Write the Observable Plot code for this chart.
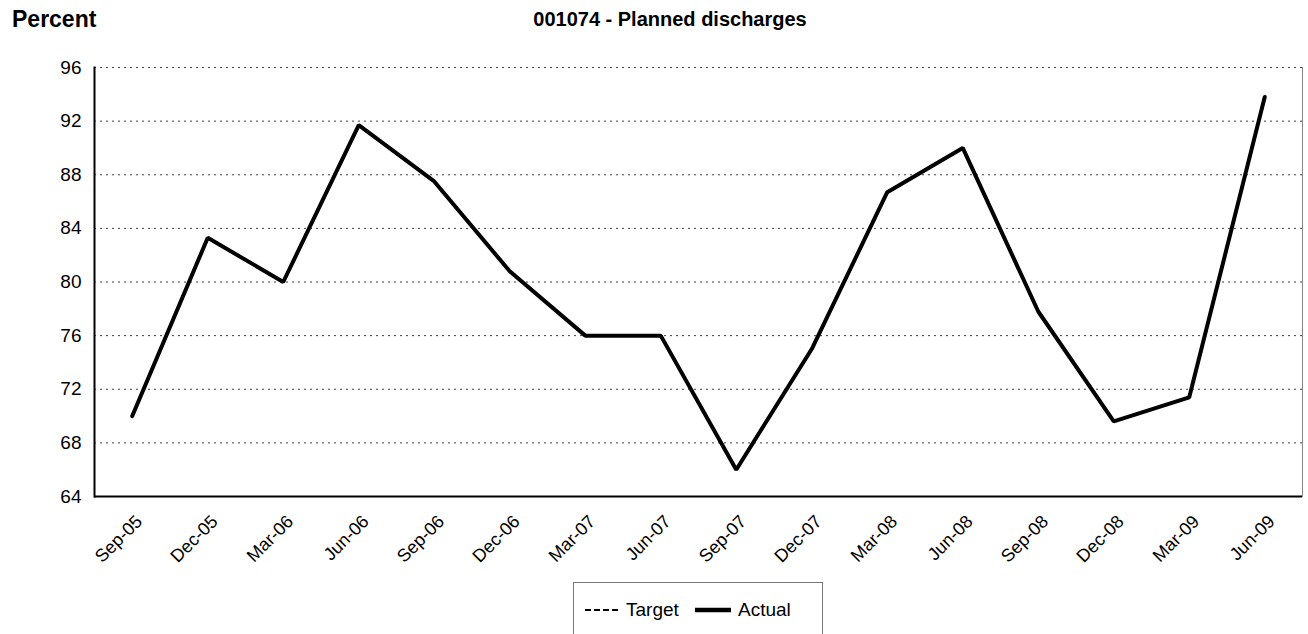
<!DOCTYPE html>
<html>
<head>
<meta charset="utf-8">
<script src="https://cdn.jsdelivr.net/npm/d3@7"></script>
<script src="https://cdn.jsdelivr.net/npm/@observablehq/plot@0.6"></script>
<style>
  html, body { margin: 0; padding: 0; background: #fff; }
  body { width: 1308px; height: 634px; overflow: hidden; position: relative; font-family: "Liberation Sans", Arial, sans-serif; }
  #ylabel { position: absolute; left: 12px; top: 6px; font-weight: bold; font-size: 23px; color: #000; }
  #title { position: absolute; left: 0; width: 1340px; top: 8px; text-align: center; font-weight: bold; font-size: 20px; color: #000; }
  #chart { position: absolute; left: 0; top: 0; }
  #legend { position: absolute; left: 573px; top: 582px; width: 250px; height: 60px; border: 1px solid #777; background: #fff; box-sizing: border-box; }
  #legend .item { position: absolute; top: 16px; font-size: 19px; display: flex; align-items: center; }
  #legend svg { margin-right: 7px; }
</style>
</head>
<body>
<div id="chart"></div>
<div id="ylabel">Percent</div>
<div id="title">001074 - Planned discharges</div>
<div id="legend">
  <div class="item" style="left:11px"><svg width="34" height="10"><line x1="0" y1="5" x2="34" y2="5" stroke="#000" stroke-width="2" stroke-dasharray="6,3"></line></svg>Target</div>
  <div class="item" style="left:121px"><svg width="36" height="10"><line x1="0" y1="5" x2="36" y2="5" stroke="#000" stroke-width="4.5"></line></svg>Actual</div>
</div>
<script>
const quarters = ["Sep-05","Dec-05","Mar-06","Jun-06","Sep-06","Dec-06","Mar-07","Jun-07","Sep-07","Dec-07","Mar-08","Jun-08","Sep-08","Dec-08","Mar-09","Jun-09"];
const actual = [70.0, 83.3, 80.0, 91.7, 87.5, 80.8, 76.0, 76.0, 66.0, 75.0, 86.7, 90.0, 77.8, 69.6, 71.4, 93.8];
const yTicks = [64, 68, 72, 76, 80, 84, 88, 92, 96];
const yDomain = [64, 96];

const data = quarters.map((q, i) => ({quarter: q, value: actual[i]}));

const chart = Plot.plot({
  width: 1308,
  height: 570,
  marginLeft: 94,
  marginRight: 6,
  marginTop: 67,
  marginBottom: 74,
  style: { fontFamily: "'Liberation Sans', Arial, sans-serif", fontSize: "19px", color: "#000", background: "transparent" },
  x: { type: "point", domain: quarters, padding: 0.5, round: false, label: null },
  y: { domain: yDomain, label: null },
  marks: [
    Plot.gridY(yTicks, { stroke: "#000", strokeOpacity: 0.75, strokeDasharray: "2,4", strokeWidth: 1 }),
    Plot.frame({ anchor: "right", stroke: "#888", strokeWidth: 1 }),
    Plot.axisY(yTicks, { tickSize: 0, tickPadding: 13, fontSize: 19 }),
    Plot.axisX({ tickSize: 0, tickRotate: -45, tickPadding: 10, dx: 7, dy: 12, fontSize: 18 }),
    Plot.ruleY([yDomain[0]], { stroke: "#000", strokeWidth: 2 }),
    Plot.frame({ anchor: "left", stroke: "#000", strokeWidth: 2 }),
    Plot.line(data, { x: "quarter", y: "value", stroke: "#000", strokeWidth: 4, strokeLinejoin: "miter", strokeLinecap: "round" })
  ]
});
document.getElementById("chart").appendChild(chart);
</script>
</body>
</html>
